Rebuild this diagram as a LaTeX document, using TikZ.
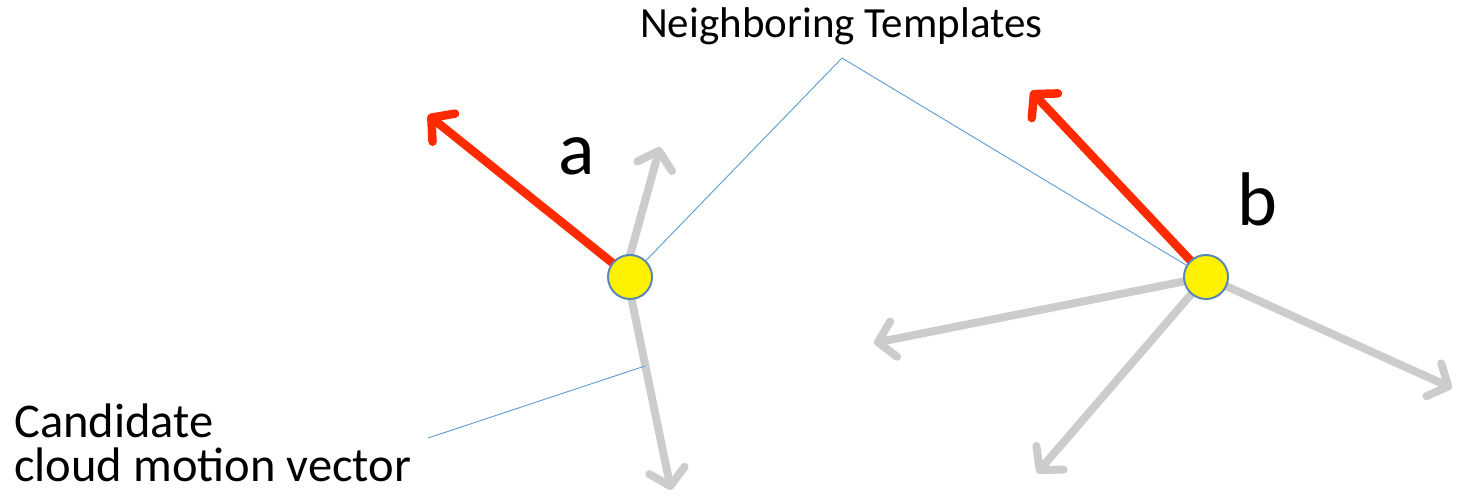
\documentclass[tikz,border=0pt]{standalone}
\usepackage{fontspec}
\setmainfont{Carlito}
\usetikzlibrary{arrows.meta}
\definecolor{vred}{HTML}{FF2A00}
\definecolor{vgray}{HTML}{CCCCCC}
\definecolor{cborder}{HTML}{5B87B5}
\definecolor{lblue}{HTML}{5B9BD5}
\tikzset{
  redvec/.style={draw=vred,line width=8.5pt,line cap=round,-{Straight Barb[length=16pt,width=36pt,round]}},
  grayvec/.style={draw=vgray,line width=8pt,line cap=round,-{Straight Barb[length=16pt,width=36pt,round]}},
  templ/.style={circle,fill=yellow,draw=cborder,line width=2pt,minimum size=44pt,inner sep=0pt},
  leader/.style={draw=lblue,line width=0.9pt},
  lbl/.style={inner sep=0pt,anchor=base west}
}
\begin{document}
\begin{tikzpicture}[x=1pt,y=-1pt]
\useasboundingbox (0,0) rectangle (1457,497);
\coordinate (ca) at (630,277);
\coordinate (cb) at (1206,277);
% vectors from a
\coordinate (au) at (660,147);
\coordinate (ad) at (671,490);
\coordinate (ar) at (428,115);
\draw[grayvec] ([xshift=-6pt]ca) -- (au);
\draw[grayvec] ([xshift=-3pt]ca) -- (ad);
\draw[redvec] (ca) -- (ar);
% vectors from b
\coordinate (bl) at (874,343);
\coordinate (bd) at (1037,473);
\coordinate (br) at (1452,388);
\coordinate (brd) at (1031,91);
\draw[grayvec] (cb) -- (bl);
\draw[grayvec] (cb) -- (bd);
\draw[grayvec] (cb) -- (br);
\draw[redvec] (cb) -- (brd);
% templates
\node[templ] (a) at (ca) {};
\node[templ] (b) at (cb) {};
% labels
\node[lbl,font=\fontsize{76}{80}\selectfont] (la) at (558,175) {a};
\node[lbl,font=\fontsize{76}{80}\selectfont] (lb) at (1237,226) {b};
\node[lbl,font=\fontsize{43}{47}\selectfont] (nt) at (640,38) {Neighboring Templates};
\node[lbl,font=\fontsize{48.5}{52}\selectfont] (cand1) at (14,437) {Candidate};
\node[lbl,font=\fontsize{48.5}{52}\selectfont] (cand2) at (14,481) {cloud motion vector};
% leaders
\coordinate (apex) at (842,58);
\draw[leader] (a) -- (apex) -- (b);
\coordinate (cl) at (428,438);
\coordinate (ce) at (645,366);
\draw[leader] (cl) -- (ce);
\end{tikzpicture}
\end{document}
